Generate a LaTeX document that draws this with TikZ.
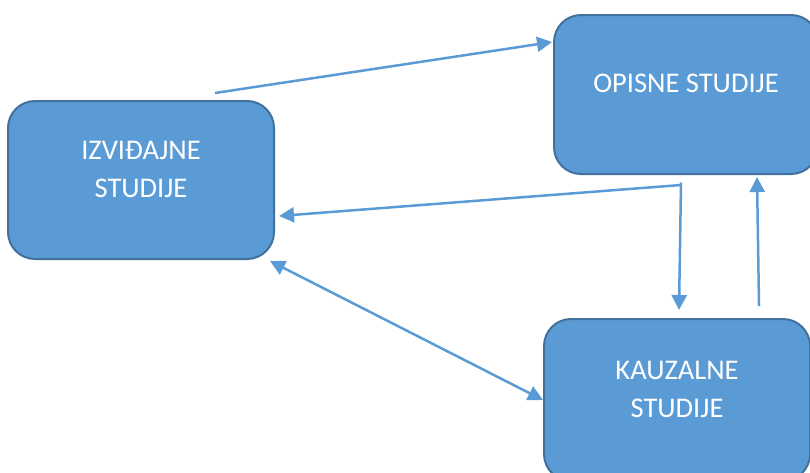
\documentclass[tikz,border=0pt]{standalone}
\usepackage{fontspec}
\setmainfont{Carlito}
\usetikzlibrary{arrows.meta,calc}
\definecolor{boxfill}{HTML}{5B9BD5}
\definecolor{boxline}{HTML}{41719C}
\definecolor{arrowc}{HTML}{5B9BD5}
\tikzset{
  box/.style={draw=boxline, line width=2pt, fill=boxfill, rounded corners=27pt, inner sep=0pt},
  lbl/.style={text=white, align=center, inner sep=0pt, font=\fontsize{28.5}{38}\selectfont},
  conn/.style={draw=arrowc, line width=2.5pt, -{Triangle[length=15pt,width=15pt]}},
  connb/.style={draw=arrowc, line width=2.5pt, {Triangle[length=15pt,width=15pt]}-{Triangle[length=15pt,width=15pt]}},
  plain/.style={draw=arrowc, line width=2.5pt}
}
\begin{document}
\begin{tikzpicture}[x=1pt,y=-1pt]
\useasboundingbox (0,0) rectangle (810,472);
\clip (0,0) rectangle (810,472);
% boxes
\node[box, minimum width=266pt, minimum height=158pt] (izv) at (141,180) {};
\node[box, minimum width=264pt, minimum height=159pt] (opi) at (686,94.5) {};
\node[box, minimum width=266pt, minimum height=162pt] (kau) at (677,400) {};
% labels
\node[lbl] (izvt) at (141,169) {IZVIĐAJNE\\STUDIJE};
\node[lbl] (opit) at (686,83.5) {OPISNE STUDIJE};
\node[lbl] (kaut) at (677,389) {KAUZALNE\\STUDIJE};
% connector end points
\coordinate (a1s) at (215,93);
\coordinate (a1e) at (552,42);
\coordinate (j) at (681,185);
\coordinate (jtop) at (681,182.5);
\coordinate (a2e) at (279,216);
\coordinate (a3e) at (679,310);
\coordinate (a4s) at (759,306);
\coordinate (a4e) at (757,177);
\coordinate (a5s) at (270,261);
\coordinate (a5e) at (543,400);
% connectors
\draw[conn] (a1s) -- (a1e);
\draw[conn] (j) -- (a2e);
\draw[conn] (jtop) -- (a3e);
\draw[conn] (a4s) -- (a4e);
\draw[connb] (a5s) -- (a5e);
\end{tikzpicture}
\end{document}
